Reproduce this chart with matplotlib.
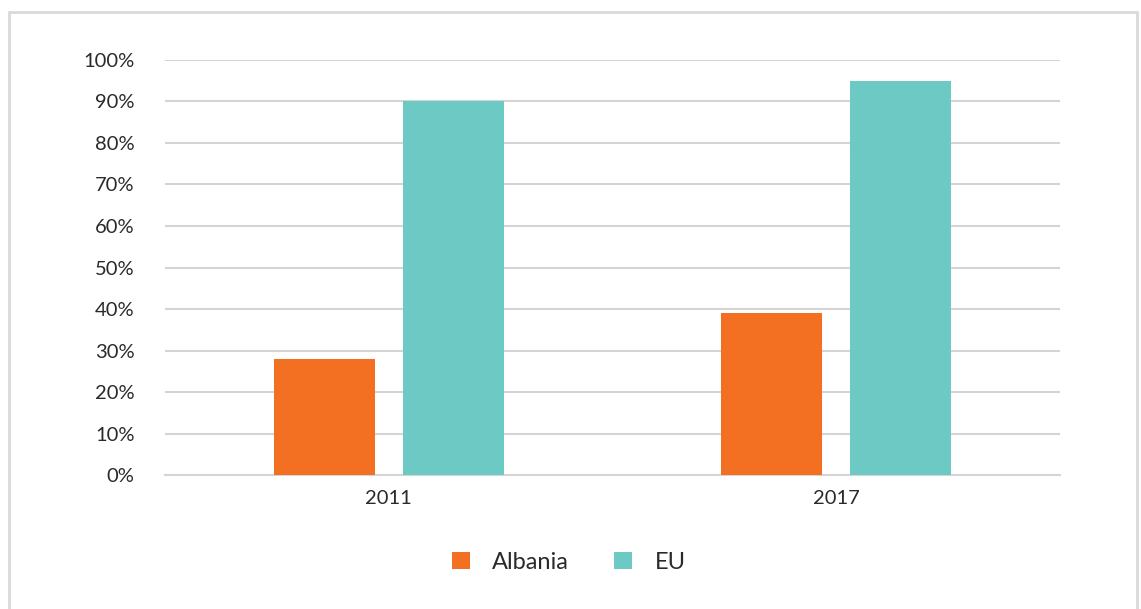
import matplotlib.pyplot as plt
import numpy as np
from matplotlib.patches import Rectangle
from matplotlib.ticker import PercentFormatter

plt.rcParams['font.family'] = ['Lato', 'DejaVu Sans']

years = ['2011', '2017']
albania = [28, 39]
eu = [90, 95]

orange = '#F36F21'
teal = '#6DC9C4'
grid_col = '#D4D4D4'

fig = plt.figure(figsize=(11.41, 6.09), dpi=100)
ax = fig.add_axes([0.1446, 0.22, 0.7844, 0.6815])

x = np.arange(len(years))
w = 0.225
ax.bar(x - 0.144, albania, width=w, color=orange, label='Albania', zorder=3)
ax.bar(x + 0.144, eu, width=w, color=teal, label='EU', zorder=3)

ax.set_xlim(-0.5, 1.5)
ax.set_ylim(0, 100)
ax.set_yticks(range(0, 101, 10))
ax.yaxis.set_major_formatter(PercentFormatter(decimals=0))
ax.set_xticks(x)
ax.set_xticklabels(years)
ax.tick_params(axis='both', length=0, labelsize=14.5, colors='#2a2a2a')
ax.tick_params(axis='y', pad=22)
ax.tick_params(axis='x', pad=11)
ax.grid(axis='y', color=grid_col, linewidth=1.5, zorder=0)
for s in ['top', 'right', 'left']:
    ax.spines[s].set_visible(False)
ax.spines['bottom'].set_color(grid_col)
ax.spines['bottom'].set_linewidth(1.5)

leg = ax.legend(loc='center', bbox_to_anchor=(0.451, -0.21), ncol=2, frameon=False,
                fontsize=17, handlelength=0.77, handleheight=0.77, handletextpad=0.95,
                columnspacing=1.9)
for t in leg.get_texts():
    t.set_color('#2a2a2a')

# light border around the figure
fig.patches.append(Rectangle((9 / 1141, -0.05), 1128 / 1141, 1 - 12 / 609 + 0.05,
                             transform=fig.transFigure, fill=False,
                             edgecolor='#D9D9D9', linewidth=2))

fig.savefig('out.png', dpi=100)
